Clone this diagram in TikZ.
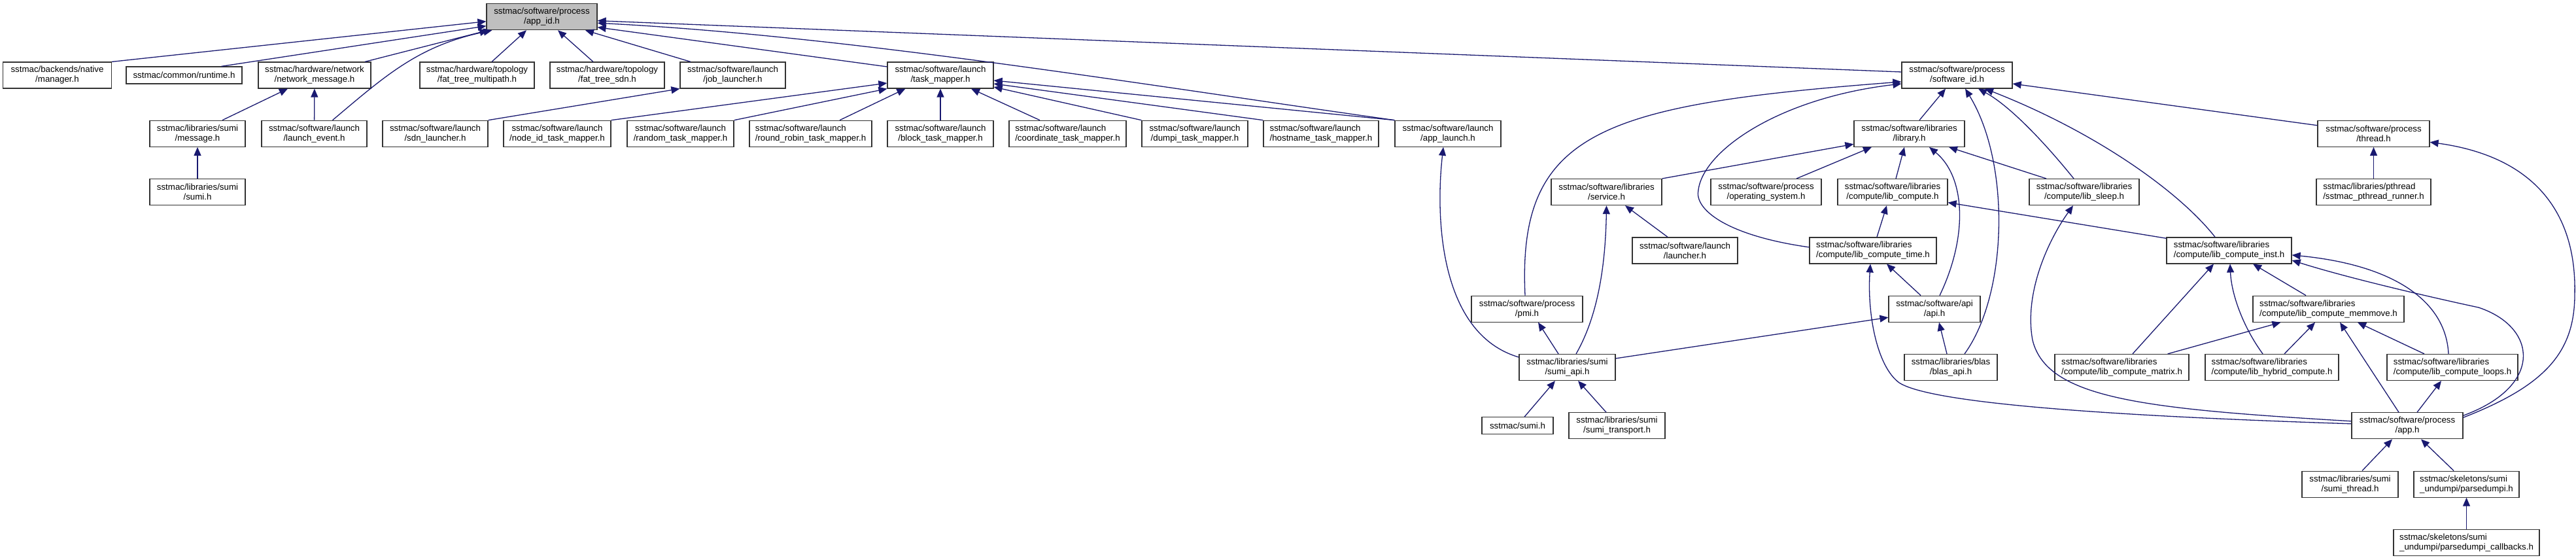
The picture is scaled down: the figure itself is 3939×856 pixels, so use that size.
\documentclass[tikz,border=0pt]{standalone}
\usepackage{fontspec}
\setmainfont{Liberation Sans}
\usetikzlibrary{arrows.meta,calc}
\definecolor{dblue}{HTML}{191970}
\begin{document}
\begin{tikzpicture}[x=1pt,y=-1pt,
  hdr/.style={draw=black!80, line width=1.2pt, fill=white, rectangle, minimum height=40pt, inner sep=1pt, align=center, font=\fontsize{13.3pt}{15pt}\selectfont},
  hdrl/.style={hdr, align=left},
  one/.style={hdr, minimum height=26pt},
  focus/.style={hdr, fill=black!25},
  dep/.style={draw=dblue, line width=1.3pt, -{Triangle[length=13pt,width=11pt]}}]
\fill[white] (0,0) rectangle (3939,856);
\useasboundingbox (0,0) rectangle (3939,856);
% row 0
\node[focus, minimum width=169pt] (appid) at (828.5,25.7) {sstmac/software/process\\/app\_id.h};
% row 1
\node[hdr, minimum width=166pt] (manager) at (87.5,115) {sstmac/backends/native\\/manager.h};
\node[one, minimum width=177pt] (runtime) at (281.5,115) {sstmac/common/runtime.h};
\node[hdr, minimum width=172pt] (netmsg) at (481,115) {sstmac/hardware/network\\/network\_message.h};
\node[hdr, minimum width=175pt] (ftmulti) at (729.5,115) {sstmac/hardware/topology\\/fat\_tree\_multipath.h};
\node[hdr, minimum width=175pt] (ftsdn) at (928.5,115) {sstmac/hardware/topology\\/fat\_tree\_sdn.h};
\node[hdr, minimum width=161pt] (joblaunch) at (1120.5,115) {sstmac/software/launch\\/job\_launcher.h};
\node[hdr, minimum width=162pt] (taskmap) at (1438,115) {sstmac/software/launch\\/task\_mapper.h};
\node[hdr, minimum width=169pt] (softid) at (2992.5,115) {sstmac/software/process\\/software\_id.h};
% row 2
\node[hdr, minimum width=146pt] (sumimsg) at (302,204.3) {sstmac/libraries/sumi\\/message.h};
\node[hdr, minimum width=161pt] (launchev) at (480.5,204.3) {sstmac/software/launch\\/launch\_event.h};
\node[hdr, minimum width=161pt] (sdn) at (665.5,204.3) {sstmac/software/launch\\/sdn\_launcher.h};
\node[hdr, minimum width=164pt] (nodeid) at (852,204.3) {sstmac/software/launch\\/node\_id\_task\_mapper.h};
\node[hdr, minimum width=163pt] (random) at (1040.5,204.3) {sstmac/software/launch\\/random\_task\_mapper.h};
\node[hdrl, minimum width=187pt] (rr) at (1239.5,204.3) {sstmac/software/launch\\/round\_robin\_task\_mapper.h};
\node[hdr, minimum width=162pt] (block) at (1438,204.3) {sstmac/software/launch\\/block\_task\_mapper.h};
\node[hdrl, minimum width=179pt] (coord) at (1632.5,204.3) {sstmac/software/launch\\/coordinate\_task\_mapper.h};
\node[hdr, minimum width=162pt] (dumpi) at (1827,204.3) {sstmac/software/launch\\/dumpi\_task\_mapper.h};
\node[hdrl, minimum width=176pt] (hostname) at (2020,204.3) {sstmac/software/launch\\/hostname\_task\_mapper.h};
\node[hdr, minimum width=162pt] (applaunch) at (2214,204.3) {sstmac/software/launch\\/app\_launch.h};
\node[hdr, minimum width=169pt] (library) at (2919.5,204.3) {sstmac/software/libraries\\/library.h};
\node[hdr, minimum width=171pt] (thread) at (3629.5,204.3) {sstmac/software/process\\/thread.h};
% row 3
\node[hdr, minimum width=146pt] (sumih) at (302,293.6) {sstmac/libraries/sumi\\/sumi.h};
\node[hdr, minimum width=169pt] (service) at (2456.5,293.6) {sstmac/software/libraries\\/service.h};
\node[hdr, minimum width=169pt] (opsys) at (2700.5,293.6) {sstmac/software/process\\/operating\_system.h};
\node[hdr, minimum width=168pt] (libcomp) at (2894,293.6) {sstmac/software/libraries\\/compute/lib\_compute.h};
\node[hdr, minimum width=168pt] (libsleep) at (3187,293.6) {sstmac/software/libraries\\/compute/lib\_sleep.h};
\node[hdrl, minimum width=175pt] (pthr) at (3629.5,293.6) {sstmac/libraries/pthread\\/sstmac\_pthread\_runner.h};
% row 4
\node[hdr, minimum width=161pt] (launcher) at (2576.5,382.9) {sstmac/software/launch\\/launcher.h};
\node[hdrl, minimum width=194pt] (ctime) at (2864,382.9) {sstmac/software/libraries\\/compute/lib\_compute\_time.h};
\node[hdrl, minimum width=191pt] (cinst) at (3408.5,382.9) {sstmac/software/libraries\\/compute/lib\_compute\_inst.h};
% row 5
\node[hdr, minimum width=170pt] (pmi) at (2335,472.2) {sstmac/software/process\\/pmi.h};
\node[hdr, minimum width=140pt] (api) at (2958,472.2) {sstmac/software/api\\/api.h};
\node[hdrl, minimum width=231pt] (memmove) at (3560.5,472.2) {sstmac/software/libraries\\/compute/lib\_compute\_memmove.h};
% row 6
\node[hdr, minimum width=147pt] (sumiapi) at (2396.5,561.5) {sstmac/libraries/sumi\\/sumi\_api.h};
\node[hdr, minimum width=142pt] (blas) at (2983,561.5) {sstmac/libraries/blas\\/blas\_api.h};
\node[hdrl, minimum width=205pt] (matrix) at (3244.5,561.5) {sstmac/software/libraries\\/compute/lib\_compute\_matrix.h};
\node[hdrl, minimum width=204pt] (hybrid) at (3474,561.5) {sstmac/software/libraries\\/compute/lib\_hybrid\_compute.h};
\node[hdrl, minimum width=200pt] (loops) at (3750,561.5) {sstmac/software/libraries\\/compute/lib\_compute\_loops.h};
% row 7
\node[one, minimum width=109pt] (ssumi) at (2320.5,650.8) {sstmac/sumi.h};
\node[hdr, minimum width=147pt] (transport) at (2472.5,650.8) {sstmac/libraries/sumi\\/sumi\_transport.h};
\node[hdr, minimum width=170pt] (apph) at (3681,650.8) {sstmac/software/process\\/app.h};
% row 8
\node[hdr, minimum width=147pt] (sumithread) at (3593.5,740.1) {sstmac/libraries/sumi\\/sumi\_thread.h};
\node[hdrl, minimum width=161pt] (parsedumpi) at (3771.5,740.1) {sstmac/skeletons/sumi\\\_undumpi/parsedumpi.h};
% row 9
\node[hdrl, minimum width=223pt] (callbacks) at (3771.5,829.4) {sstmac/skeletons/sumi\\\_undumpi/parsedumpi\_callbacks.h};

% ---- edges into app_id.h
\draw[dep] (manager.north east) -- ($(appid.west)+(0,7)$);
\draw[dep] ($(runtime.north)+(57,0)$) -- ($(appid.west)+(0,14)$);
\draw[dep] ($(netmsg.north)+(77,0)$) -- ($(appid.south west)+(3,0)$);
\draw[dep] ($(launchev.north)+(28,0)$) .. controls (590,115) and (640,70) .. ($(appid.south west)+(9,0)$);
\draw[dep] ($(ftmulti.north)+(22.5,0)$) -- ($(appid.south)+(-23.5,0)$);
\draw[dep] ($(ftsdn.north)+(-21.5,0)$) -- ($(appid.south)+(24.5,0)$);
\draw[dep] ($(joblaunch.north)+(-64.5,0)$) -- ($(appid.south)+(66.5,0)$);
\draw[dep] ($(taskmap.west)+(0,-13)$) -- ($(appid.east)+(0,16)$);
\draw[dep] (applaunch.north west) .. controls (1750,130) and (1300,55) .. ($(appid.east)+(0,9.5)$);
\draw[dep] ($(softid.west)+(0,-5)$) -- ($(appid.east)+(0,6)$);
% ---- network_message.h, message.h, job_launcher.h
\draw[dep] ($(sumimsg.north)+(38,0)$) -- ($(netmsg.south)+(-41,0)$);
\draw[dep] (launchev) -- (netmsg);
\draw[dep] (sumih) -- (sumimsg);
\draw[dep] (sdn.north east) -- (joblaunch.south west);
% ---- task_mapper.h
\draw[dep] (nodeid.north east) -- ($(taskmap.west)+(0,12)$);
\draw[dep] (random.north east) -- (taskmap.south west);
\draw[dep] ($(rr.north)+(44.5,0)$) -- ($(taskmap.south west)+(28,0)$);
\draw[dep] (block) -- (taskmap);
\draw[dep] ($(coord.north)+(-42.5,0)$) -- ($(taskmap.south)+(47,0)$);
\draw[dep] (dumpi.north west) -- ($(taskmap.east)+(0,18)$);
\draw[dep] (hostname.north west) -- ($(taskmap.east)+(0,13)$);
\draw[dep] (applaunch.north west) -- ($(taskmap.east)+(0,8)$);
% ---- app_launch.h
\draw[dep] ($(sumiapi.west)+(0,-15.5)$) .. controls (2200,510) and (2195,330) .. ($(applaunch.south)+(-7,0)$);
% ---- software_id.h
\draw[dep] ($(library.north)+(15.5,0)$) -- ($(softid.south)+(-17.5,0)$);
\draw[dep] ($(pmi.north)+(-3,0)$) .. controls (2320,200) and (2450,160) .. ($(softid.west)+(0,10)$);
\draw[dep] ($(ctime.west)+(0,-5)$) .. controls (2640,360) and (2590,320) .. (2597,290) .. controls (2605,230) and (2720,150) .. ($(softid.west)+(0,13)$);
\draw[dep] ($(blas.north)+(21,0)$) .. controls (3070,450) and (3075,250) .. ($(softid.south)+(12.5,0)$);
\draw[dep] ($(libsleep.north)+(-16,0)$) .. controls (3120,210) and (3070,160) .. ($(softid.south)+(32.5,0)$);
\draw[dep] ($(cinst.north)+(-21.5,0)$) .. controls (3330,290) and (3200,200) .. ($(softid.south)+(42.5,0)$);
\draw[dep] ($(thread.north west)+(0,8)$) -- ($(softid.east)+(0,13)$);
% ---- library.h
\draw[dep] (service.north east) -- ($(library.west)+(0,16)$);
\draw[dep] ($(opsys.north)+(46.5,0)$) -- ($(library.south)+(-57.5,0)$);
\draw[dep] ($(libcomp.north)+(5,0)$) -- ($(library.south)+(-7.5,0)$);
\draw[dep] ($(api.north)+(8,0)$) .. controls (3010,360) and (3005,270) .. ($(library.south)+(30.5,0)$);
\draw[dep] ($(libsleep.north)+(-58,0)$) -- ($(library.south)+(60.5,0)$);
% ---- lib_compute.h
\draw[dep] ($(ctime.north)+(6,0)$) -- ($(libcomp.south)+(-9,0)$);
\draw[dep] ($(cinst.north west)+(0,2)$) -- ($(libcomp.east)+(0,16)$);
% ---- lib_sleep.h
\draw[dep] ($(apph.west)+(0,-7)$) .. controls (3280,625) and (3130,610) .. (3108,520) .. controls (3095,450) and (3130,370) .. ($(libsleep.south)+(-17,0)$);
% ---- lib_compute_time.h
\draw[dep] ($(api.north)+(-21,0)$) -- ($(ctime.south)+(21,0)$);
\draw[dep] ($(apph.west)+(0,-3)$) .. controls (3200,635) and (2950,615) .. (2904,585) .. controls (2870,560) and (2855,480) .. ($(ctime.south)+(-4,0)$);
% ---- api.h, pmi.h, service.h
\draw[dep] ($(sumiapi.north east)+(0,7)$) -- ($(api.west)+(0,13)$);
\draw[dep] ($(blas.north)+(-6,0)$) -- ($(api.south)+(7,0)$);
\draw[dep] ($(sumiapi.north)+(-13.5,0)$) -- ($(pmi.south)+(17,0)$);
\draw[dep] ($(sumiapi.north)+(13.5,0)$) .. controls (2445,480) and (2455,400) .. (service.south);
\draw[dep] ($(launcher.north)+(-26.5,0)$) -- ($(service.south)+(28.5,0)$);
% ---- sumi_api.h
\draw[dep] ($(ssumi.north)+(10.5,0)$) -- ($(sumiapi.south)+(-18.5,0)$);
\draw[dep] ($(transport.north)+(-16.5,0)$) -- ($(sumiapi.south)+(16.5,0)$);
% ---- thread.h
\draw[dep] (pthr) -- (thread);
\draw[dep] ($(apph.north east)+(0,8)$) .. controls (3890,590) and (3937,540) .. (3937,450) .. controls (3940,330) and (3880,240) .. ($(thread.east)+(0,13)$);
% ---- lib_compute_inst.h
\draw[dep] ($(matrix.north)+(16.5,0)$) -- ($(cinst.south)+(-23.5,0)$);
\draw[dep] ($(hybrid.north)+(-14,0)$) .. controls (3430,500) and (3412,450) .. ($(cinst.south)+(1.5,0)$);
\draw[dep] ($(memmove.north)+(-34.5,0)$) -- ($(cinst.south)+(36.5,0)$);
\draw[dep] ($(loops.north)+(-6,0)$) .. controls (3740,460) and (3660,405) .. ($(cinst.east)+(0,7)$);
\draw[dep] ($(apph.north east)+(0,5)$) .. controls (3890,590) and (3880,500) .. (3790,470) .. controls (3720,455) and (3590,425) .. ($(cinst.east)+(0,15)$);
% ---- lib_compute_memmove.h
\draw[dep] ($(matrix.north east)+(-33,0)$) -- ($(memmove.south west)+(43,0)$);
\draw[dep] ($(hybrid.north)+(19,0)$) -- ($(memmove.south)+(-20.5,0)$);
\draw[dep] ($(apph.north)+(-13,0)$) -- ($(memmove.south)+(17.5,0)$);
\draw[dep] ($(loops.north)+(-43,0)$) -- ($(memmove.south)+(44.5,0)$);
% ---- lib_compute_loops.h, app.h, parsedumpi.h
\draw[dep] ($(apph.north)+(15,0)$) -- ($(loops.south)+(-17,0)$);
\draw[dep] ($(sumithread.north)+(18.5,0)$) -- ($(apph.south)+(-23,0)$);
\draw[dep] ($(parsedumpi.north)+(-19.5,0)$) -- ($(apph.south)+(21,0)$);
\draw[dep] (callbacks) -- (parsedumpi);
\end{tikzpicture}
\end{document}
